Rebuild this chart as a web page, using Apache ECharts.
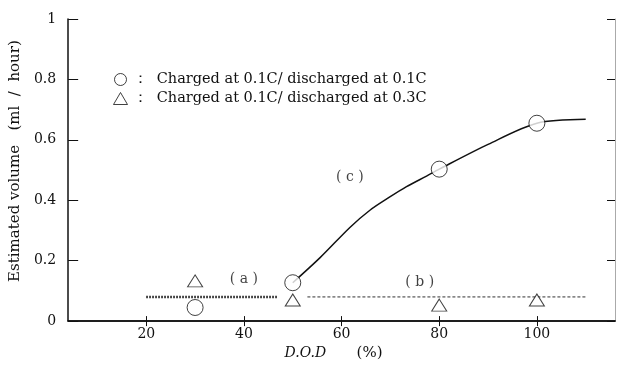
<!DOCTYPE html>
<html>
<head>
<meta charset="utf-8">
<script src="https://cdn.jsdelivr.net/npm/echarts@6/dist/echarts.min.js"></script>
<style>
html,body{margin:0;padding:0;background:#fff;}
#c{width:617px;height:366px;}
</style>
</head>
<body>
<div id="c"></div>
<script>
// ---- data ----
var xTicks = [20, 40, 60, 80, 100];
var circleX = [30, 50, 80, 100];
var circleY = [0.045, 0.127, 0.503, 0.655];
var triX = [30, 50, 80, 100];
var triY = [0.133, 0.07, 0.053, 0.07];
var curveCX = [50, 55.6, 61.7, 65.8, 69.8, 73.3, 77.4, 80, 90, 100, 110];
var curveCY = [0.127, 0.21, 0.31, 0.367, 0.41, 0.445, 0.48, 0.503, 0.585, 0.655, 0.668];
var lineAX = [20, 47];
var lineAY = [0.08, 0.08];
var lineBX = [53, 110];
var lineBY = [0.08, 0.08];
var annX = [40, 76, 61.7];
var annY = [0.137, 0.127, 0.477];
var annText = ['( a )', '( b )', '( c )'];
var seriesNames = ['Charged at 0.1C/ discharged at 0.1C', 'Charged at 0.1C/ discharged at 0.3C'];

function zip(xs, ys) { return xs.map(function (x, i) { return [x, ys[i]]; }); }

var FONT = 'DejaVu Serif';
var chart = echarts.init(document.getElementById('c'));
chart.setOption({
  animation: false,
  backgroundColor: '#fff',
  textStyle: { fontFamily: FONT, color: '#111' },
  grid: { left: 66, right: 2, top: 19, bottom: 43, containLabel: false },
  legend: {
    orient: 'vertical', left: 108, top: 67, itemGap: 4,
    itemWidth: 14, itemHeight: 12,
    textStyle: { fontFamily: FONT, fontSize: 14.5, color: '#111' },
    formatter: function (n) { return '：  ' + n; },
    data: [
      { name: seriesNames[0], icon: 'circle', itemStyle: { color: '#fff', borderColor: '#111', borderWidth: 1 } },
      { name: seriesNames[1], icon: 'triangle', itemStyle: { color: '#fff', borderColor: '#111', borderWidth: 1 } }
    ]
  },
  xAxis: [{
    type: 'value', min: 4, max: 116, position: 'bottom',
    axisLine: { lineStyle: { color: '#111', width: 1.5 } },
    axisTick: { inside: true, length: 5, customValues: xTicks, lineStyle: { color: '#111' } },
    axisLabel: { customValues: xTicks, margin: 6, fontSize: 14, fontFamily: FONT, color: '#111' },
    splitLine: { show: false },
    name: '{i|D.O.D}        {n|(%)}', nameLocation: 'middle', nameGap: 21,
    nameTextStyle: {
      padding: [0, 16, 0, 0],
      rich: {
        i: { fontFamily: FONT, fontStyle: 'italic', fontSize: 14, color: '#111' },
        n: { fontFamily: FONT, fontSize: 15, color: '#111' }
      }
    }
  }, {
    type: 'value', min: 4, max: 116, position: 'top',
    axisLine: { lineStyle: { color: '#111', width: 1.5 } },
    axisTick: { inside: true, length: 5, customValues: xTicks, lineStyle: { color: '#111' } },
    axisLabel: { show: false }, splitLine: { show: false }
  }],
  yAxis: [{
    type: 'value', min: 0, max: 1, interval: 0.2,
    axisLine: { show: true, lineStyle: { color: '#111', width: 1.5 } },
    axisTick: { show: true, inside: true, length: 10, lineStyle: { color: '#111' } },
    axisLabel: { margin: 12, fontSize: 14, fontFamily: FONT, color: '#111' },
    splitLine: { show: false },
    name: 'Estimated volume   (ml  /  hour)', nameLocation: 'middle', nameGap: 42,
    nameTextStyle: { fontFamily: FONT, fontSize: 15, color: '#111', padding: [0, 0, 0, 18] }
  }, {
    type: 'value', min: 0, max: 1, interval: 0.2, position: 'right',
    axisLine: { show: true, lineStyle: { color: '#aaa', width: 1 } },
    axisTick: { show: true, inside: true, length: 8, lineStyle: { color: '#111' } },
    axisLabel: { show: false }, splitLine: { show: false }
  }],
  series: [
    {
      type: 'line', data: zip(curveCX, curveCY), smooth: 0.3, symbol: 'none',
      lineStyle: { color: '#111', width: 1.5 }, z: 2, silent: true
    },
    {
      type: 'line', data: zip(lineAX, lineAY), symbol: 'none',
      lineStyle: { color: '#111', width: 2.5, type: [1.5, 1.5] }, z: 2, silent: true
    },
    {
      type: 'line', data: zip(lineBX, lineBY), symbol: 'none',
      lineStyle: { color: '#333', width: 1, type: [3, 2] }, z: 2, silent: true
    },
    {
      name: seriesNames[0], type: 'scatter', data: zip(circleX, circleY),
      symbol: 'circle', symbolSize: 16,
      itemStyle: { color: '#fff', borderColor: '#111', borderWidth: 1 }, z: 5
    },
    {
      name: seriesNames[1], type: 'scatter', data: zip(triX, triY),
      symbol: 'triangle', symbolSize: [15, 12],
      itemStyle: { color: '#fff', borderColor: '#111', borderWidth: 1 }, z: 5
    },
    {
      type: 'scatter', symbolSize: 0, silent: true,
      data: annX.map(function (x, i) { return { value: [x, annY[i]], name: annText[i] }; }),
      label: { show: true, position: 'inside', formatter: '{b}', fontFamily: FONT, fontSize: 14, color: '#111' },
      z: 6
    }
  ]
});
</script>
</body>
</html>
